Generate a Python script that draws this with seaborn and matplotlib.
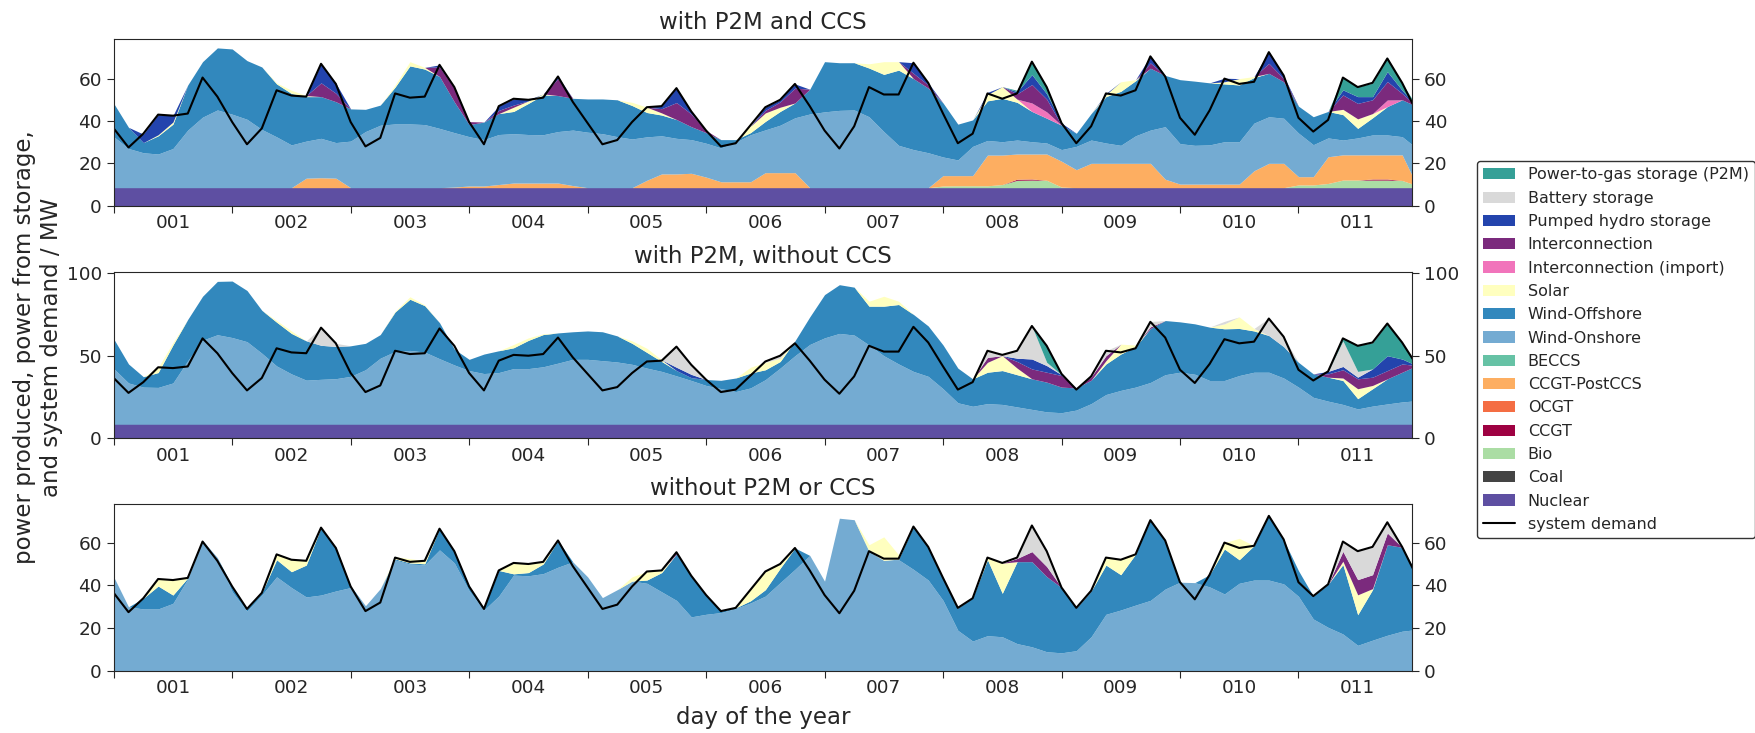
import matplotlib
matplotlib.use("Agg")
import matplotlib.pyplot as plt
import seaborn as sns
from matplotlib.patches import Patch
from matplotlib.lines import Line2D

# ---------------- data (MW, 3-hourly, hours 0..264) ----------------
hours = list(range(0, 265, 3))
day_labels = ["001", "002", "003", "004", "005", "006", "007", "008", "009", "010", "011"]
titles = ["with P2M and CCS", "with P2M, without CCS", "without P2M or CCS"]

demand = [36.5, 27.5, 34, 43, 42.5, 43.5, 60.5, 51.5,
          39.5, 29, 36.5, 54.5, 52, 51.5, 67, 57.5,
          39.5, 28, 32, 53, 51, 51.5, 66.5, 56,
          39.5, 29, 47, 50.5, 50, 51, 61, 49,
          39, 29, 31, 39.5, 46.5, 47, 55.5, 44.5,
          35.5, 28, 29.5, 38, 46.5, 50, 57.5, 47,
          35.5, 27, 37.5, 56, 52.5, 52.5, 67.5, 58,
          43.5, 29.5, 34, 53, 50.5, 53, 68, 56,
          39, 29.5, 37.5, 53, 52, 54.5, 70.5, 61,
          41.5, 33.5, 45, 60, 57.5, 58.5, 72.5, 61.5,
          41.5, 35, 40.5, 60.5, 56, 58, 69.5, 58,
          44]

nuclear_level = 8.5  # constant nuclear output in the first two scenarios

# ---- scenario 1: with P2M and CCS ----
p1_bio = [0]*56 + [0.8, 0.9, 0.9, 0.9, 1.5, 3.5, 3.6, 3.5,
                   0.3, 0, 0, 0, 0, 0, 0, 0,
                   0, 0, 0, 0, 0, 0, 0, 0,
                   1.3, 1.3, 2, 3.6, 3.6, 3.6, 3.6, 3.4,
                   1]
p1_ccgt = [0]*56 + [0, 0, 0, 0, 0, 0.5, 0.5, 0,
                    0, 0, 0, 0, 0, 0, 0, 0,
                    0, 0, 0, 0, 0, 0, 0, 0,
                    0, 0, 0, 0, 0, 0.5, 0.5, 0,
                    0]
p1_postccs = [0, 0, 0, 0, 0, 0, 0, 0,
              0, 0, 0, 0, 0, 4.5, 4.7, 4.5,
              0, 0, 0, 0, 0, 0, 0, 0.3,
              0.8, 0.8, 1.5, 2.2, 2.2, 2.2, 2.2, 1.0,
              0, 0, 0, 0, 3.5, 6.5, 6.5, 6.8,
              5, 2.8, 2.8, 2.8, 7.1, 7.1, 7.1, 0,
              0, 0, 0, 0, 0, 0, 0, 0,
              4.9, 4.8, 4.8, 14.5, 13.9, 11.9, 11.8, 12.4,
              12.2, 8.5, 11.5, 11.5, 11.5, 11.5, 11.5, 4,
              1.7, 1.7, 1.7, 1.7, 1.7, 8, 11.5, 11.5,
              3.9, 3.9, 12.6, 11.9, 11.9, 11.4, 11.4, 12.1,
              0]
p1_onshore = [24.1, 18.5, 16.5, 15.9, 18.5, 27.2, 33.3, 36.7,
              34.7, 32.3, 27.5, 24, 20.2, 17.5, 18.6, 16.8,
              22, 26.5, 29.5, 30.1, 30.1, 29.8, 28, 25.7,
              23.3, 21.9, 23.6, 23.3, 22.9, 22.8, 24.3, 26.2,
              26.2, 25.5, 24.1, 23, 20.5, 18, 16.8, 15.9,
              16, 16, 18.7, 22.2, 20.2, 22.4, 25.9, 34.8,
              35.8, 36.5, 36.7, 33.5, 26.5, 20, 18, 16.5,
              8.8, 7.4, 13.8, 6.9, 6.3, 6.6, 5.8, 5.2,
              5.5, 11, 11, 9.6, 8.5, 13, 15.7, 24.8,
              19.1, 18.3, 18.5, 20, 20, 22.5, 22, 21.3,
              20.6, 15.1, 8.9, 7, 8, 9.4, 9.4, 8.6,
              17.5]
p1_offshore = [15.7, 10, 4.8, 8.6, 11.5, 21.3, 26.2, 29.3,
               30.8, 27.7, 29.5, 25, 24.3, 21, 19.7, 19.3,
               15.2, 10.5, 9.5, 17.4, 27.4, 26.2, 24.5, 14.5,
               5.7, 8.3, 9.9, 10.5, 14.7, 18.8, 17, 15,
               15.7, 16.4, 17.4, 15.8, 11.5, 9.8, 8.9, 6.1,
               5, 3.9, 1.2, 1, 4, 6.5, 7, 11.7,
               23.7, 22.5, 22.3, 23, 27, 35.5, 33.5, 30.5,
               25.5, 16.9, 12.5, 18.7, 20.5, 17.8, 14.3, 11.7,
               11.5, 6.2, 12.5, 21.9, 25.5, 26, 29.2, 24.2,
               30.2, 30.3, 29.3, 27.3, 26.8, 21.5, 20.5, 17.2,
               12.7, 13.2, 12.5, 12, 4.5, 8.1, 13.4, 17.4,
               19.8]
p1_solar = [0, 0, 0, 0.5, 1, 0, 0, 0,
            0, 0, 0, 0.5, 1.5, 0.5, 0, 0,
            0, 0, 0, 1, 2, 0.8, 0, 0,
            0, 0, 0, 2, 1.2, 0.5, 0, 0,
            0, 0, 0, 1.5, 2.5, 1, 0, 0,
            0, 0, 0, 3, 4, 2, 0, 0,
            0, 0, 0, 2, 6, 4, 0, 0,
            0, 0, 0, 3, 5.5, 1.5, 0, 0,
            0, 0, 0, 1, 4.5, 0.5, 0, 0,
            0, 0, 0, 1, 3, 0.5, 0, 0,
            0, 0, 0, 2.5, 4.5, 2, 0, 0,
            0]
p1_import = [0]*56 + [0, 0, 0, 0, 0, 0, 4, 3,
                      0, 0, 0, 0, 0, 0, 0, 0,
                      0, 0, 0, 0, 0, 0, 0, 0,
                      0, 0, 0, 0, 0, 0, 3.1, 0,
                      0]
p1_interconn = [0, 0, 0, 0, 0, 0, 0, 0,
                0, 0, 0, 0, 0, 0, 6.5, 4,
                0, 0, 0, 0, 0, 0, 4.5, 6.5,
                1.4, 0, 1.5, 1, 0, 0, 8, 0,
                0, 0, 0, 0, 0, 2, 8, 6,
                1, 0, 0, 0, 1.2, 2.5, 7, 0,
                0, 0, 0, 0, 0, 0, 2.5, 1.5,
                0, 0, 0, 0, 0, 2.5, 8.7, 6,
                0, 0, 0, 0, 0, 0, 2.5, 0,
                0, 0, 0, 0, 0, 0, 4.7, 1.5,
                0, 0, 0, 6.8, 7.3, 6.5, 8.7, 3,
                0]
p1_hydro = [0, 0, 4, 9.5, 3, 0, 0, 0,
            0, 0, 0, 0, 0, 0, 9, 4.7,
            0, 0, 0, 0, 0, 0, 1, 0.5,
            0, 0, 2, 2.9, 0.5, 0, 1, 0,
            0, 0, 0, 0, 0, 1.2, 6.8, 1.2,
            0, 0, 0, 0, 1.5, 1, 2, 0,
            0, 0, 0, 0, 0, 0, 5, 1,
            0, 0, 0, 1, 0, 1, 4.7, 2.5,
            1, 0, 0, 0.5, 0, 0, 3.3, 0,
            0, 0, 0, 1.7, 0, 0, 5.6, 1.3,
            0, 0, 0, 2.4, 3.2, 1.5, 4.7, 1.5,
            0]
p1_p2m = [0]*56 + [0, 0, 0, 0, 0, 0.7, 6.1, 3.2,
                   0, 0, 0, 0, 0, 0, 0, 0,
                   0, 0, 0, 0, 0, 0, 0, 0,
                   0, 0, 0, 6, 4.7, 6.3, 6.7, 3.3,
                   0]

# ---- scenario 2: with P2M, without CCS ----
p2_onshore = [33.7, 25, 22.5, 22.3, 25, 38.5, 50.9, 54.2,
              52.5, 50, 43, 35.3, 30.5, 26.7, 27.2, 27.6,
              29, 33, 40, 44.1, 44.7, 43.7, 39.7, 35.9,
              32.5, 30.7, 31.3, 33.7, 33.7, 34.8, 37, 39.3,
              39.3, 38.5, 37.7, 36.3, 34, 32, 29.3, 26.5,
              23.5, 21.6, 19.8, 22, 27, 34, 41.5, 48.3,
              52.3, 55, 54, 48, 41.5, 36.5, 32, 29,
              21.5, 13, 10.9, 12.5, 12, 10.5, 9, 7.5,
              7, 8.6, 12.5, 18, 20.5, 22.5, 25.3, 30,
              31.5, 30.3, 26.5, 26.5, 29.5, 31.5, 31.5, 28,
              22.5, 16.3, 14, 12, 9.3, 11, 12.3, 13.5,
              14.3]
p2_offshore = [18, 11.5, 6.3, 9, 23, 25, 26.6, 32.3,
               34.2, 31, 26, 26.5, 24.5, 23.8, 20.6, 19.5,
               18.5, 16, 14.3, 23.9, 31, 28.1, 21.8, 9.6,
               6.8, 11.8, 13.2, 12.6, 17.1, 19.5, 18.3, 16.7,
               17.2, 17.5, 15.8, 12.7, 9.5, 6, 3.2, 1.7,
               3.6, 5, 8.2, 9, 6, 4, 9, 16.7,
               26.2, 29.5, 29, 23.5, 30, 36, 34.5, 30.5,
               26.5, 21, 16.6, 19, 20.5, 19.5, 18.5, 18,
               15.5, 13.4, 14.2, 18.5, 22, 24.5, 32.7, 32.8,
               30.5, 30.5, 32.3, 31.3, 28.5, 25, 22.2, 19,
               15, 14.2, 14.5, 14.5, 6.2, 10.5, 15.2, 18,
               21.2]
p2_solar = [0, 0, 0, 3, 1.5, 0, 0, 0,
            0, 0, 0, 1, 1.5, 0, 0, 0,
            0, 0, 0, 0.5, 1.5, 0.5, 0, 0,
            0, 0, 0, 2, 1.5, 0.5, 0, 0,
            0, 0, 0, 1.5, 2.5, 1, 0, 0,
            0, 0, 0, 3.5, 4.5, 2, 0, 0,
            0, 0, 0, 3, 6, 2, 0, 0,
            0, 0, 0, 6, 9, 4, 0, 0,
            0, 0, 0, 2, 6, 1, 0, 0,
            0, 0, 0, 3, 7, 1.5, 0, 0,
            0, 0, 0, 1.5, 6, 2, 0, 0,
            0]
p2_interconn = [0]*56 + [0, 0, 0, 3, 0, 4, 6, 6,
                         7, 0, 2, 3, 0, 0, 1, 0,
                         0, 0, 0, 0, 0, 0, 0, 0,
                         0, 0, 2, 5, 6, 5, 5, 5,
                         0]
p2_hydro = [0]*32 + [0, 0, 0, 0, 0, 0, 2, 2,
                     0, 0, 0, 0, 0, 0, 0, 0,
                     0, 0, 0, 0, 0, 0, 0, 0,
                     0, 0, 0, 0, 0, 2, 6, 4,
                     0.5, 0, 0, 0, 0, 0, 0, 0,
                     0, 0, 0, 0, 0, 0, 0, 0,
                     0, 0, 1.5, 2, 1, 5, 9, 3,
                     0]
p2_battery = [0, 0, 0, 0, 0, 0, 0, 0,
              0, 0, 0, 0, 0, 0, 10.7, 1.9,
              0, 0, 0, 0, 0, 0, 0, 0,
              0, 0, 0, 0, 0, 0, 0, 0,
              0, 0, 0, 0, 0, 0, 12.5, 5.8,
              0, 0, 0, 0, 0, 1.5, 0, 0,
              0, 0, 0, 0, 0, 0, 0, 0,
              0, 0, 0, 4, 0.4, 4.5, 19.9, 2,
              0, 0, 0, 3, 0, 0, 3.2, 0,
              0, 0, 0, 1.5, 0, 0, 10.6, 5.8,
              0, 0, 0, 15.5, 3.5, 0, 0, 0,
              0]
p2_p2m = [0]*56 + [0, 0, 0, 0, 0, 0, 0, 10,
                   0.5, 0, 0, 0, 0, 0, 0, 0,
                   0, 0, 0, 0, 0, 0, 0, 0,
                   0, 0, 0, 1.6, 15.7, 15.8, 19.6, 9.8,
                   0]

# ---- scenario 3: without P2M or CCS ----
p3_onshore = [44, 30, 29, 29, 31.6, 43, 61, 53,
              37, 28, 35.5, 44, 39, 34.6, 35.5, 37.4,
              39, 30.5, 38.5, 51.9, 50, 49.6, 56.6, 50.5,
              37.5, 28.5, 35, 44.8, 44.5, 45.5, 48.5, 51,
              44, 34.3, 38, 42, 41, 37, 33, 25.3,
              26.5, 27.3, 29.2, 31.8, 35, 41.3, 47.5, 54,
              42, 71.4, 70.7, 55.5, 51.7, 52, 47.5, 42.5,
              33, 19, 14, 16.5, 16, 12.8, 11.3, 9,
              8.5, 9.5, 16, 26.5, 28.5, 30.8, 33, 38.3,
              41.5, 41.3, 39.3, 36, 41, 42.5, 42.5, 40.7,
              34.9, 24.3, 20.4, 17.3, 12, 14.4, 16.7, 18.6,
              19.4]
p3_offshore = [0, 0, 5, 10.7, 3.9, 0.5, 0, 0,
               2.5, 1, 1, 8, 7.4, 14.9, 31.5, 20.4,
               0.7, 0, 0, 0.5, 0.5, 0.5, 9.9, 5.5,
               2.2, 0.9, 12, 0.6, 1.5, 4.5, 12.5, 0,
               0, 0, 0, 0, 1.5, 9, 21.7, 19.2,
               9, 0.7, 0.3, 1, 3, 6.7, 10, 0,
               0, 0, 0, 0.5, 0, 0.3, 20.1, 15.5,
               10.5, 10.4, 20.2, 35.5, 20.3, 38.3, 39.8, 35.1,
               30.5, 19.9, 21.3, 23, 16.5, 23.8, 37.7, 22.7,
               0, 0, 5.7, 21, 11, 16.1, 30.3, 20.6,
               12, 10.7, 20.1, 32.4, 14.3, 23.6, 42.3, 39.2,
               26]
p3_solar = [0, 0, 0, 3.3, 7, 0.3, 0, 0,
            0, 0, 0, 2.5, 5.6, 2, 0, 0,
            0, 0, 0, 1, 2, 1.5, 0, 0,
            0, 0, 0, 5, 4, 1, 0, 0,
            0, 0, 0, 2, 4, 1, 0, 0,
            0, 0, 0, 5.2, 8.5, 2, 0, 0,
            0, 0, 0, 3, 11, 2, 0, 0,
            0, 0, 0, 1, 14.1, 0, 0, 0,
            0, 0, 0, 3.5, 7, 0, 0, 0,
            0, 0, 0, 3, 10, 0, 0, 0,
            0, 0, 0, 1.6, 9.3, 0.5, 0, 0,
            0]
p3_interconn = [0]*32 + [0, 0, 0, 0, 0, 0, 0.8, 0,
                         0, 0, 0, 0, 0, 0, 0, 0,
                         0, 0, 0, 0, 0, 0, 0, 0,
                         0, 0, 0, 0, 0, 1.5, 4.7, 4.7,
                         0, 0, 0, 0, 0, 0, 0, 0,
                         0, 0, 0, 0, 0, 0, 0, 0,
                         0, 0, 0, 4.6, 7.1, 6.5, 5.5, 0,
                         0]
p3_battery = [0]*56 + [0, 0, 0, 0, 0, 0.4, 12.1, 7.2,
                       0, 0, 0, 0, 0, 0, 0, 0,
                       0, 0, 0, 0, 0, 0, 0, 0,
                       0, 0, 0, 4.7, 13.5, 12.8, 5.1, 0,
                       0]

# ---------------- styling ----------------
colors = {
    "Power-to-gas storage (P2M)": "#35a097",
    "Battery storage": "#d9d9d9",
    "Pumped hydro storage": "#2344ad",
    "Interconnection": "#7b2a7d",
    "Interconnection (import)": "#f174bb",
    "Solar": "#ffffbf",
    "Wind-Offshore": "#3288bd",
    "Wind-Onshore": "#74abd2",
    "BECCS": "#66c2a5",
    "CCGT-PostCCS": "#fdae61",
    "OCGT": "#f46d43",
    "CCGT": "#9e0142",
    "Bio": "#abdda4",
    "Coal": "#444444",
    "Nuclear": "#5e4fa2",
}
legend_order = list(colors.keys())
stack_order = legend_order[::-1]

nuclear = [nuclear_level for _ in hours]
scenarios = [
    {"Nuclear": nuclear, "Bio": p1_bio, "CCGT": p1_ccgt, "CCGT-PostCCS": p1_postccs,
     "Wind-Onshore": p1_onshore, "Wind-Offshore": p1_offshore, "Solar": p1_solar,
     "Interconnection (import)": p1_import, "Interconnection": p1_interconn,
     "Pumped hydro storage": p1_hydro, "Power-to-gas storage (P2M)": p1_p2m},
    {"Nuclear": nuclear, "Wind-Onshore": p2_onshore, "Wind-Offshore": p2_offshore,
     "Solar": p2_solar, "Interconnection": p2_interconn, "Pumped hydro storage": p2_hydro,
     "Battery storage": p2_battery, "Power-to-gas storage (P2M)": p2_p2m},
    {"Wind-Onshore": p3_onshore, "Wind-Offshore": p3_offshore, "Solar": p3_solar,
     "Interconnection": p3_interconn, "Battery storage": p3_battery},
]

sns.set_style("ticks")
plt.rcParams["font.family"] = ["DejaVu Sans"]

W, H = 1756, 733
fig = plt.figure(figsize=(W / 100, H / 100), dpi=100)
left, right = 113.7, 1412
tops = [39, 272.3, 504.3]
bottoms = [205.7, 438.3, 671]
ymax = [78.7, 100.5, 77.9]
yticks = [[0, 20, 40, 60], [0, 50, 100], [0, 20, 40, 60]]

axes = []
for i in range(3):
    ax = fig.add_axes([left / W, 1 - bottoms[i] / H, (right - left) / W, (bottoms[i] - tops[i]) / H])
    data = scenarios[i]
    names = [n for n in stack_order if n in data]
    ax.stackplot(hours, *[data[n] for n in names], colors=[colors[n] for n in names],
                 linewidth=0)
    sns.lineplot(x=hours, y=demand, color="black", linewidth=1.5, ax=ax, legend=False)
    ax.set_xlim(0, 263)
    ax.set_ylim(0, ymax[i])
    ax.set_yticks(yticks[i])
    ax.set_xticks(list(range(0, 241, 24)))
    ax.set_xticklabels([])
    ax.set_xticks([12 + 24 * k for k in range(len(day_labels))], minor=True)
    ax.set_xticklabels(day_labels, minor=True)
    ax.tick_params(axis="x", which="minor", length=0, labelsize=13.3, pad=6)
    ax.tick_params(axis="x", which="major", length=5)
    ax.tick_params(axis="y", length=5, labelsize=13.3, right=True, labelright=True)
    ax.set_title(titles[i], fontsize=16.5, pad=7)
    ax.set_ylabel("")
    ax.set_xlabel("")
    axes.append(ax)

axes[1].set_ylabel("power produced, power from storage,\nand system demand / MW", fontsize=16.5)
axes[1].yaxis.set_label_coords(-0.039, 0.55)
axes[2].set_xlabel("day of the year", fontsize=16.5, labelpad=6)

handles = [Patch(facecolor=colors[n], edgecolor="none") for n in legend_order]
handles.append(Line2D([0], [0], color="black", linewidth=1.5))
labels = legend_order + ["system demand"]
fig.legend(handles, labels, loc="upper left", bbox_to_anchor=(1476.7 / W, 1 - 161 / H),
           borderaxespad=0, fontsize=11.5, labelspacing=0.52, frameon=True, fancybox=True,
           edgecolor="0.2", framealpha=1)

fig.savefig("out.png", dpi=100)
